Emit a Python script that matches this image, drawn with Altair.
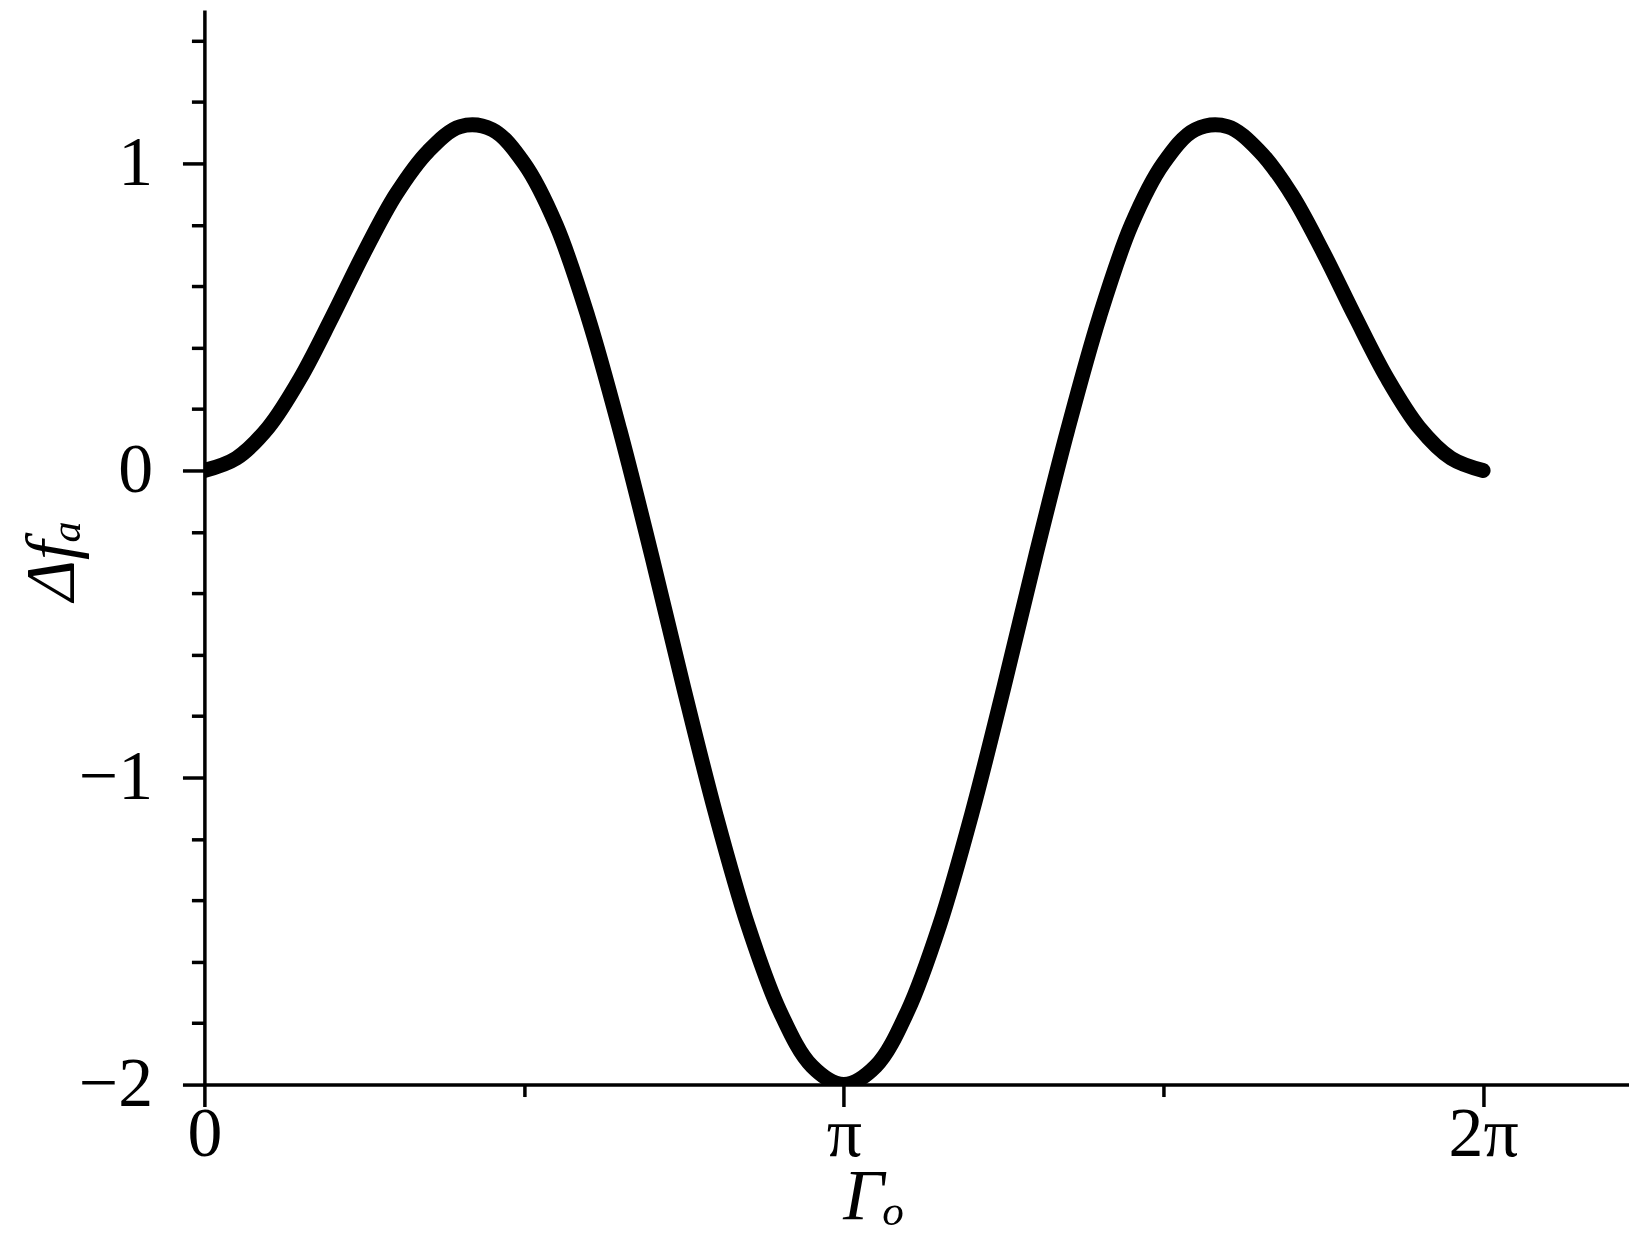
import altair as alt
import pandas as pd

# Γo values (radians) and Δf_a
gamma = [0.000, 0.157, 0.314, 0.471, 0.628, 0.785, 0.942, 1.100, 1.257, 1.414,
         1.571, 1.728, 1.885, 2.042, 2.199, 2.356, 2.513, 2.670, 2.827, 2.985,
         3.142, 3.299, 3.456, 3.613, 3.770, 3.927, 4.084, 4.241, 4.398, 4.555,
         4.712, 4.869, 5.027, 5.184, 5.341, 5.498, 5.655, 5.812, 5.969, 6.126,
         6.283]
delta_fa = [0.00, 0.04, 0.14, 0.30, 0.50, 0.71, 0.90, 1.04, 1.12, 1.11,
            1.00, 0.80, 0.50, 0.13, -0.28, -0.71, -1.12, -1.48, -1.76, -1.94,
            -2.00, -1.94, -1.76, -1.48, -1.12, -0.71, -0.28, 0.13, 0.50, 0.80,
            1.00, 1.11, 1.12, 1.04, 0.90, 0.71, 0.50, 0.30, 0.14, 0.04,
            0.00]

x_major = [0, 3.14159265, 6.28318531]
x_minor = [1.57079633, 4.71238898]
y_major = [-2, -1, 0, 1]
y_minor = [-1.8, -1.6, -1.4, -1.2, -0.8, -0.6, -0.4, -0.2,
           0.2, 0.4, 0.6, 0.8, 1.2, 1.4]

df = pd.DataFrame({"g": gamma, "f": delta_fa})

FONT = "Liberation Serif"
xscale = alt.Scale(domain=[0, 7.0], nice=False, zero=False)
yscale = alt.Scale(domain=[-2, 1.5], nice=False, zero=False)

major = alt.Chart(df).mark_line(
    color="black", strokeWidth=15, strokeCap="round", strokeJoin="round",
    interpolate="catmull-rom", clip=True
).encode(
    x=alt.X("g:Q", scale=xscale, axis=alt.Axis(
        orient="bottom", values=x_major, tickSize=22, tickWidth=3.5,
        domainWidth=3.5, domainColor="black", tickColor="black",
        labelExpr="datum.value < 1 ? '0' : (datum.value < 4 ? 'π' : '2π')",
        labelFont=FONT, labelFontSize=70, labelColor="black",
        labelBaseline="alphabetic", labelPadding=49,
        labelFlush=False, labelOverlap=False, grid=False,
        title="Γₒ", titleFont=FONT, titleFontSize=72, titleFontStyle="italic",
        titleFontWeight="normal", titleColor="black",
        titleAnchor="start", titleAlign="center", titleBaseline="alphabetic",
        titleX=671, titleY=134)),
    y=alt.Y("f:Q", scale=yscale, axis=alt.Axis(
        orient="left", values=y_major, tickSize=22, tickWidth=3.5,
        domainWidth=3.5, domainColor="black", tickColor="black", format="d",
        labelFont=FONT, labelFontSize=70, labelColor="black", labelPadding=30,
        labelFlush=False, labelOverlap=False, grid=False,
        title="Δfₐ", titleFont=FONT, titleFontSize=70, titleFontStyle="italic",
        titleFontWeight="normal", titleColor="black", titleAngle=270,
        titleAlign="center", titleBaseline="middle",
        titleX=-152, titleY=552)),
)

minor = alt.Chart(df).mark_line(opacity=0).encode(
    x=alt.X("g:Q", scale=xscale, axis=alt.Axis(
        orient="bottom", values=x_minor, tickSize=12, tickWidth=3.5,
        tickColor="black", domain=False, labels=False, grid=False, title=None)),
    y=alt.Y("f:Q", scale=yscale, axis=alt.Axis(
        orient="left", values=y_minor, tickSize=13, tickWidth=3.5,
        tickColor="black", domain=False, labels=False, grid=False, title=None)),
)

chart = alt.layer(minor, major).resolve_axis(
    x="independent", y="independent"
).properties(
    width=1429, height=1078,
    autosize=alt.AutoSizeParams(type="none"),
    padding={"left": 197, "top": 0, "right": 0, "bottom": 150},
    background="white",
).configure_view(stroke=None)

chart.save("out.html", embed_options={"renderer": "svg", "actions": False})
